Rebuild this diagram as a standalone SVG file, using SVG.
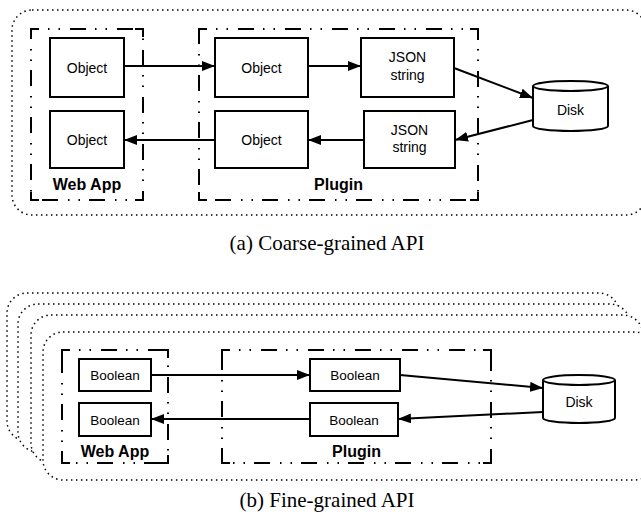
<svg xmlns="http://www.w3.org/2000/svg" width="641" height="516" viewBox="0 0 641 516">
<style>
.bg{fill:#fff}
.outer{fill:none;stroke:#000;stroke-width:1.5;stroke-dasharray:1.5 3.5}
.stack{fill:#fff;stroke:#000;stroke-width:1.5;stroke-dasharray:1.5 3.5}
.grp{fill:none;stroke:#000;stroke-width:2;stroke-dasharray:16 9 1.5 9 1.5 10;stroke-dashoffset:8}
.corner{fill:none;stroke:#000;stroke-width:2}
.node{fill:#fff;stroke:#000;stroke-width:2}
.t{font-family:"Liberation Sans",Arial,sans-serif;font-size:14px;text-anchor:middle;fill:#000}
.tb{font-family:"Liberation Sans",Arial,sans-serif;font-size:13.5px;text-anchor:middle;fill:#000}
.lbl{font-family:"Liberation Sans",Arial,sans-serif;font-size:16px;font-weight:bold;text-anchor:middle;fill:#000}
.cap{font-family:"Liberation Serif","Times New Roman",serif;font-size:21px;text-anchor:middle;fill:#000}
.edge{fill:none;stroke:#000;stroke-width:2;marker-end:url(#arr)}
</style>
<defs>
<marker id="arr" markerUnits="userSpaceOnUse" markerWidth="14" markerHeight="10" refX="13" refY="5" orient="auto">
<path d="M0,0 L13,5 L0,10 z" fill="#000"/>
</marker>
</defs>
<rect class="bg" x="0" y="0" width="641" height="516"/>

<!-- Panel (a) -->
<g id="panel-a">
<rect class="outer" x="12" y="10" width="634" height="205" rx="20" ry="20"/>
</g>
<g id="webapp-a">
<rect class="grp" x="31" y="29" width="112" height="171"/>
<path class="corner" d="M31,37V29H39 M135,29H143V37 M31,192V200H39 M135,200H143V192"/>
<text class="lbl" x="87" y="189.5">Web App</text>
</g>
<g id="plugin-a">
<rect class="grp" x="199" y="29" width="279" height="171"/>
<path class="corner" d="M199,37V29H207 M470,29H478V37 M199,192V200H207 M470,200H478V192"/>
<text class="lbl" x="338.5" y="189.5">Plugin</text>
</g>
<g id="a-web-obj1"><rect class="node" x="50" y="38" width="74" height="59"/><text class="t" x="87" y="72.5">Object</text></g>
<g id="a-web-obj2"><rect class="node" x="50" y="111" width="74" height="57"/><text class="t" x="87" y="144.5">Object</text></g>
<g id="a-plg-obj1"><rect class="node" x="215" y="38" width="93" height="59"/><text class="t" x="261.5" y="72.5">Object</text></g>
<g id="a-plg-obj2"><rect class="node" x="215" y="111" width="93" height="57"/><text class="t" x="261.5" y="144.5">Object</text></g>
<g id="a-json1"><rect class="node" x="361" y="38" width="93" height="59"/><text class="t" x="407.5" y="62">JSON</text><text class="t" x="407.5" y="80">string</text></g>
<g id="a-json2"><rect class="node" x="364" y="111" width="91" height="57"/><text class="t" x="409.5" y="135">JSON</text><text class="t" x="409.5" y="152">string</text></g>
<g id="a-disk">
<path class="node" d="M533,86 A37.5,5 0 0 1 608,86 V126 A37.5,5 0 0 1 533,126 Z"/>
<path class="node" style="fill:none" d="M533,86 A37.5,5 0 0 0 608,86"/>
<text class="t" x="570.5" y="115">Disk</text>
</g>
<g id="a-edges">
<line class="edge" x1="124" y1="66" x2="215" y2="66"/>
<line class="edge" x1="308" y1="66" x2="361" y2="66"/>
<line class="edge" x1="454" y1="68" x2="533" y2="98"/>
<line class="edge" x1="533" y1="120" x2="455" y2="140"/>
<line class="edge" x1="364" y1="140" x2="308" y2="140"/>
<line class="edge" x1="215" y1="140" x2="124" y2="140"/>
</g>
<text class="cap" x="327" y="250">(a) Coarse-grained API</text>

<!-- Panel (b) -->
<g id="panel-b">
<rect class="stack" x="7" y="293" width="612" height="148" rx="20" ry="20"/>
<rect class="stack" x="18" y="304" width="612" height="148" rx="20" ry="20"/>
<rect class="stack" x="31" y="315" width="612" height="148" rx="20" ry="20"/>
<rect class="stack" x="43" y="332" width="612" height="148" rx="20" ry="20"/>
</g>
<g id="webapp-b">
<rect class="grp" x="62" y="350" width="106" height="113"/>
<path class="corner" d="M62,358V350H70 M160,350H168V358 M62,455V463H70 M160,463H168V455"/>
<text class="lbl" x="115" y="457">Web App</text>
</g>
<g id="plugin-b">
<rect class="grp" x="222" y="350" width="269" height="113"/>
<path class="corner" d="M222,358V350H230 M483,350H491V358 M222,455V463H230 M483,463H491V455"/>
<text class="lbl" x="356.5" y="457">Plugin</text>
</g>
<g id="b-web-bool1"><rect class="node" x="79" y="359" width="72" height="32"/><text class="tb" x="115" y="380">Boolean</text></g>
<g id="b-web-bool2"><rect class="node" x="79" y="403" width="72" height="33"/><text class="tb" x="115" y="424.5">Boolean</text></g>
<g id="b-plg-bool1"><rect class="node" x="310" y="359" width="90" height="32"/><text class="tb" x="355" y="380">Boolean</text></g>
<g id="b-plg-bool2"><rect class="node" x="310" y="403" width="88" height="33"/><text class="tb" x="354" y="424.5">Boolean</text></g>
<g id="b-disk">
<path class="node" d="M543,380 A36,5 0 0 1 615,380 V418 A36,5 0 0 1 543,418 Z"/>
<path class="node" style="fill:none" d="M543,380 A36,5 0 0 0 615,380"/>
<text class="t" x="579" y="407">Disk</text>
</g>
<g id="b-edges">
<line class="edge" x1="151" y1="375" x2="310" y2="375"/>
<line class="edge" x1="400" y1="375" x2="543" y2="388"/>
<line class="edge" x1="543" y1="412" x2="398" y2="419"/>
<line class="edge" x1="310" y1="419" x2="151" y2="419"/>
</g>
<text class="cap" x="327" y="507">(b) Fine-grained API</text>
</svg>
